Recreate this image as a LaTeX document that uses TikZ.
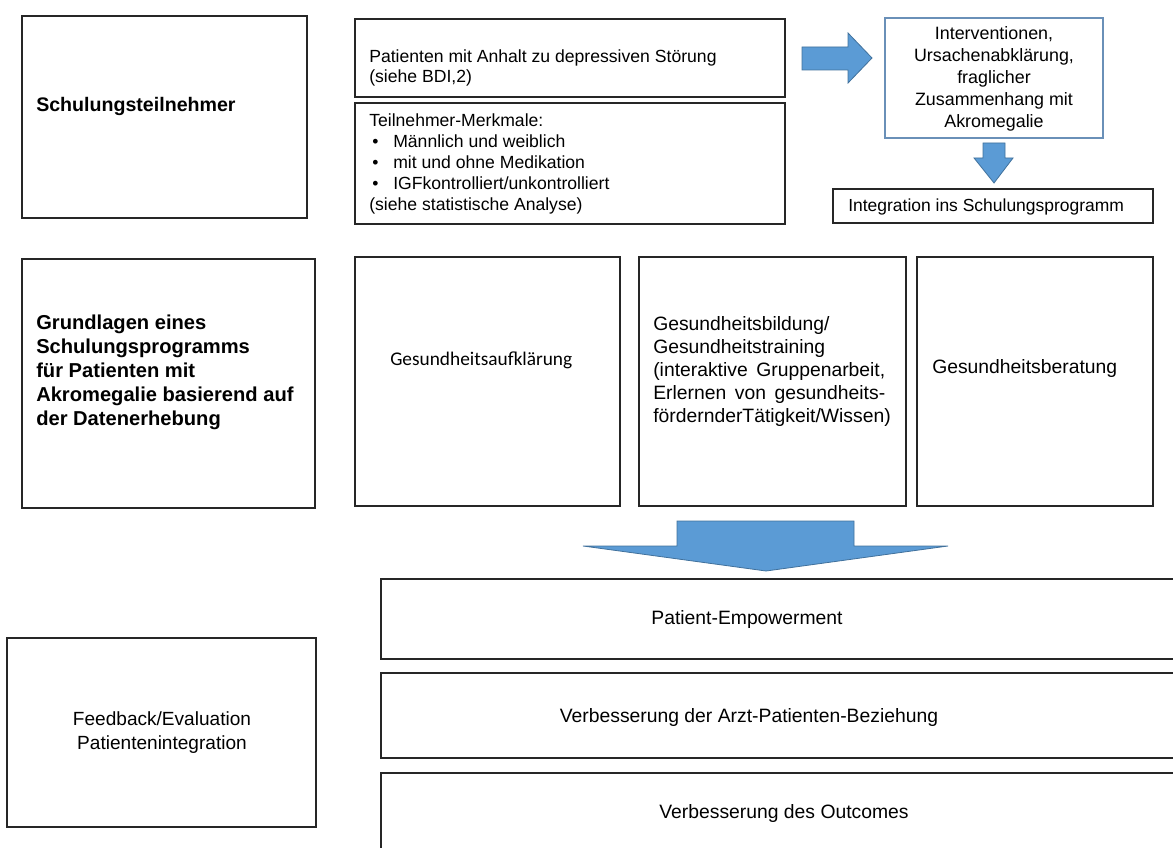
\documentclass[tikz,border=0pt]{standalone}
\usepackage{fontspec}
\setmainfont{Liberation Sans}
\newfontfamily\calibfont{Carlito}
\definecolor{arrowfill}{HTML}{5B9BD5}
\definecolor{arrowline}{HTML}{41719C}
\definecolor{steelframe}{HTML}{6A90B8}

% rectangle node given by its corners (x1,y1) (x2,y2) in pixel units
\newcommand\rbox[6][]{%
  \node[box,#1,minimum width={(#4-#2)*0.75pt},minimum height={(#5-#3)*0.75pt}]
    (#6) at ({(#2+#4)/2},{(#3+#5)/2}) {};}
\newcommand\fsz[2]{\fontsize{#1pt}{#2pt}\selectfont}

\begin{document}
\begin{tikzpicture}[x=0.75pt,y=-0.75pt,
  box/.style={draw=black!85,line width=1.3pt,inner sep=0pt,fill=white},
  lbl/.style={inner sep=0pt,anchor=west,align=left},
  ctr/.style={inner sep=0pt,align=center},
  blockarrow/.style={fill=arrowfill,draw=arrowline,line width=0.6pt,line join=miter}]

\path[use as bounding box] (0,0) rectangle (1173,848);
\clip (0,0) rectangle (1173,848);

% ---- first row: participants ----
\rbox{22}{16}{307}{218}{teil}
\rbox{355}{19}{785}{97}{pat}
\rbox{355}{103}{785}{224}{merk}
\rbox[draw=steelframe,line width=1.1pt]{885}{18}{1103}{138}{interv}
\rbox[line width=1.1pt]{833}{189}{1153}{223}{integ}

\node[lbl,font=\bfseries\fsz{14.7}{18}] (teilT) at (36,106) {Schulungsteilnehmer};
\node[lbl,font=\fsz{13.2}{15}] (patT) at (369,68)
  {Patienten mit Anhalt zu depressiven Störung\\(siehe BDI,2)};
\node[lbl,font=\fsz{13.2}{15.75}] (merkT) at (369,164)
  {Teilnehmer-Merkmale:\\
   \hspace*{2.25pt}\makebox[15.75pt][l]{•}Männlich und weiblich\\
   \hspace*{2.25pt}\makebox[15.75pt][l]{•}mit und ohne Medikation\\
   \hspace*{2.25pt}\makebox[15.75pt][l]{•}IGFkontrolliert/unkontrolliert\\
   (siehe statistische Analyse)};
\node[ctr,font=\fsz{13.4}{16.5}] (intervT) at (994,79)
  {Interventionen,\\Ursachenabklärung,\\fraglicher\\Zusammenhang mit\\Akromegalie};
\node[lbl,font=\fsz{13.1}{15}] (integT) at (848,207) {Integration ins Schulungsprogramm};

% block arrows
\draw[blockarrow] (802,47) -- (848,47) -- (848,33) -- (872,58) -- (848,83)
  -- (848,70) -- (802,70) -- cycle;
\draw[blockarrow] (983,143) -- (1005,143) -- (1005,158) -- (1013,158) -- (994,183)
  -- (974,158) -- (983,158) -- cycle;

% ---- second row: foundations ----
\rbox{22}{259}{315}{508}{grund}
\rbox{355}{257}{620}{506}{aufkl}
\rbox{639}{257}{906}{506}{bild}
\rbox{917}{257}{1153}{506}{berat}

\node[lbl,font=\bfseries\fsz{15.1}{18}] (grundT) at (36,372.5)
  {Grundlagen eines\\Schulungsprogramms\\für Patienten mit\\Akromegalie basierend auf\\der Datenerhebung};
\node[lbl,font=\calibfont\fsz{14.5}{17}] (aufklT) at (390,360) {Gesundheitsaufklärung};
\node[lbl,font=\fsz{14.5}{17.25}] (bildT) at (653,371)
  {Gesundheitsbildung/\\Gesundheitstraining\\
   \makebox[174pt][s]{(interaktive Gruppenarbeit,}\\
   \makebox[174pt][s]{Erlernen von gesundheits-}\\
   fördernderTätigkeit/Wissen)};
\node[lbl,font=\fsz{14.5}{17}] (beratT) at (932,369) {Gesundheitsberatung};

\draw[blockarrow] (677,521) -- (854,521) -- (854,546) -- (948,546) -- (766,571)
  -- (583,546) -- (677,546) -- cycle;

% ---- third row: outcomes ----
\rbox{381}{579}{1190}{659}{emp}
\rbox{381}{673}{1190}{758}{arzt}
\rbox{381}{773}{1190}{880}{outc}
\rbox{7}{638}{316}{827}{feed}

\node[ctr,font=\fsz{14.5}{18}] (empT) at (747,619) {Patient-Empowerment};
\node[ctr,font=\fsz{14.5}{18}] (arztT) at (749,717) {Verbesserung der Arzt-Patienten-Beziehung};
\node[ctr,font=\fsz{14.5}{18}] (outcT) at (784,813) {Verbesserung des Outcomes};
\node[ctr,font=\fsz{14.3}{18}] (feedT) at (162,733) {Feedback/Evaluation\\Patientenintegration};

\end{tikzpicture}
\end{document}
